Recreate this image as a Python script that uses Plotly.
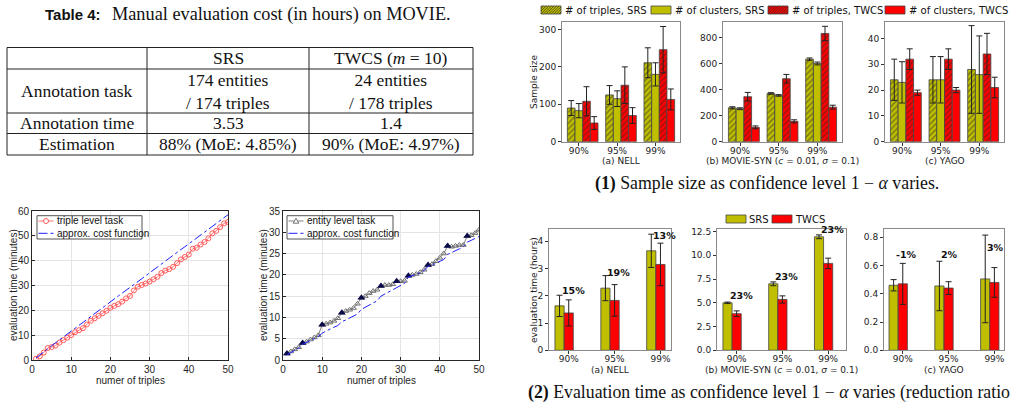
import plotly.graph_objects as go

W, H = 1015, 408


def fx(p):
    return p / W


def fy(p):
    return 1 - p / H


# ---------------- data ----------------
table_title_bold = "Table 4:"
table_title_rest = "Manual evaluation cost (in hours) on MOVIE."
table_columns = ["SRS", "TWCS (<i>m</i> = 10)"]
table_row_labels = ["Annotation task", "Annotation time", "Estimation"]
table_srs = ["174 entities<br>/ 174 triples", "3.53", "88% (MoE: 4.85%)"]
table_twcs = ["24 entities<br>/ 178 triples", "1.4", "90% (MoE: 4.97%)"]

n_triples = list(range(1, 51))
triple_task_time = [0.5, 1.5, 3.0, 4.8, 5.2, 5.8, 7.0, 8.0, 9.0, 10.0,
                    11.2, 12.0, 12.8, 14.3, 15.8, 16.8, 17.8, 18.8, 19.8, 21.0,
                    21.8, 22.5, 23.5, 24.8, 25.8, 28.0, 29.5, 30.2, 30.8, 31.6,
                    32.5, 33.5, 35.0, 36.0, 36.6, 37.5, 39.0, 40.5, 41.5, 42.5,
                    44.8, 45.2, 46.5, 47.5, 49.0, 51.0, 52.0, 53.5, 55.0, 55.6]
triple_cost_fn = [0.8, 2.1, 3.3, 4.5, 5.7, 6.9, 8.1, 9.3, 10.5, 11.7,
                  12.8, 14.0, 15.2, 16.4, 17.5, 18.7, 19.9, 21.0, 22.2, 23.4,
                  24.6, 25.7, 26.9, 28.1, 29.2, 30.4, 31.6, 32.8, 33.9, 35.1,
                  36.3, 37.4, 38.6, 39.8, 41.0, 42.1, 43.3, 44.5, 45.6, 46.8,
                  48.0, 49.2, 50.3, 51.5, 52.7, 53.8, 55.0, 56.2, 57.4, 58.5]
entity_task_time = [1.5, 2.0, 2.5, 3.0, 4.0, 4.3, 4.8, 5.3, 5.8, 8.3,
                    8.5, 8.8, 9.2, 9.8, 11.1, 11.5, 11.8, 12.2, 13.2, 14.6,
                    15.0, 15.7, 16.2, 16.5, 17.4, 17.6, 17.6, 17.8, 18.5, 18.5,
                    18.6, 19.8, 20.0, 20.2, 20.6, 21.2, 22.3, 22.5, 23.2, 24.0,
                    25.0, 26.8, 26.6, 26.8, 27.0, 27.0, 29.1, 29.3, 29.8, 30.6]
entity_cost_fn = [1.2, 1.7, 2.2, 2.8, 3.7, 4.1, 4.5, 5.0, 5.5, 6.3,
                  6.8, 7.3, 7.7, 8.1, 9.0, 9.4, 9.9, 10.4, 10.8, 11.9,
                  12.4, 12.9, 13.3, 13.9, 15.0, 15.5, 16.0, 16.6, 17.2, 17.5,
                  18.0, 19.5, 19.8, 20.1, 20.5, 21.0, 22.0, 22.3, 22.7, 23.1,
                  23.6, 24.8, 25.2, 25.7, 26.1, 26.6, 27.7, 28.1, 28.5, 29.0]
entity_start = [1, 5, 10, 15, 20, 25, 29, 32, 37, 42, 47]

confidence = ["90%", "95%", "99%"]
conf_pos = [0, 1, 2]

# sample size (top row): mean, error
nell_trip_srs = [90, 125, 211]
nell_trip_srs_err = [20, 25, 40]
nell_clus_srs = [83, 115, 180]
nell_clus_srs_err = [19, 21, 31]
nell_trip_twcs = [108, 151, 246]
nell_trip_twcs_err = [39, 49, 62]
nell_clus_twcs = [50, 70, 113]
nell_clus_twcs_err = [17, 21, 28]

movie_trip_srs = [260, 370, 633]
movie_trip_srs_err = [8, 6, 9]
movie_clus_srs = [253, 355, 600]
movie_clus_srs_err = [7, 6, 11]
movie_trip_twcs = [345, 483, 830]
movie_trip_twcs_err = [33, 33, 55]
movie_clus_twcs = [110, 156, 265]
movie_clus_twcs_err = [11, 12, 15]

yago_trip_srs = [24, 24, 28]
yago_trip_srs_err = [8, 9, 17]
yago_clus_srs = [23, 24, 26]
yago_clus_srs_err = [8, 9, 15]
yago_trip_twcs = [32, 32, 34]
yago_trip_twcs_err = [4, 4, 8]
yago_clus_twcs = [19, 20, 21]
yago_clus_twcs_err = [1, 1, 4]

# evaluation time (bottom row)
nell_time_srs = [1.63, 2.28, 3.65]
nell_time_srs_err = [0.39, 0.46, 0.61]
nell_time_twcs = [1.37, 1.83, 3.15]
nell_time_twcs_err = [0.48, 0.58, 0.78]
nell_reduction = ["15%", "19%", "13%"]

movie_time_srs = [5.0, 7.0, 11.95]
movie_time_srs_err = [0.08, 0.2, 0.2]
movie_time_twcs = [3.85, 5.35, 9.15]
movie_time_twcs_err = [0.3, 0.38, 0.55]
movie_reduction = ["23%", "23%", "23%"]

yago_time_srs = [0.46, 0.455, 0.505]
yago_time_srs_err = [0.04, 0.175, 0.31]
yago_time_twcs = [0.47, 0.44, 0.48]
yago_time_twcs_err = [0.145, 0.045, 0.105]
yago_reduction = ["-1%", "2%", "3%"]

top_names = ["# of triples, SRS", "# of clusters, SRS", "# of triples, TWCS", "# of clusters, TWCS"]
bottom_names = ["SRS", "TWCS"]
line_left_names = ["triple level task", "approx. cost function"]
line_right_names = ["entity level task", "approx. cost function"]

# ---------------- style ----------------
OLIVE = "#bfbf00"
RED = "#ff0000"
SERIF = "Liberation Serif"
SANS = "Liberation Sans"
MPL = "DejaVu Sans"
TRIPLE_RED = "#ff5a5a"
ENTITY_GRAY = "#707070"
COST_BLUE = "#2020ff"
TABLE_FS = 17.5
CAPTION_FS = 17.8

fig = go.Figure()

# ---------------- line plots ----------------
fig.add_trace(go.Scatter(
    x=n_triples, y=triple_task_time, mode="lines+markers", name=line_left_names[0],
    line=dict(color="#ff7070", width=1), marker=dict(symbol="circle-open", size=5, color=TRIPLE_RED),
    xaxis="x", yaxis="y", showlegend=False))
fig.add_trace(go.Scatter(
    x=n_triples, y=triple_cost_fn, mode="lines", name=line_left_names[1],
    line=dict(color=COST_BLUE, width=1, dash="dashdot"),
    xaxis="x", yaxis="y", showlegend=False))

fig.add_trace(go.Scatter(
    x=n_triples, y=entity_task_time, mode="lines+markers", name=line_right_names[0],
    line=dict(color="#808080", width=1), marker=dict(symbol="triangle-up-open", size=5, color=ENTITY_GRAY),
    xaxis="x2", yaxis="y2", showlegend=False))
fig.add_trace(go.Scatter(
    x=entity_start, y=[entity_task_time[n_triples.index(s)] for s in entity_start], mode="markers",
    marker=dict(symbol="triangle-up", size=7, color="#0b0b4a"), showlegend=False,
    xaxis="x2", yaxis="y2"))
fig.add_trace(go.Scatter(
    x=n_triples, y=entity_cost_fn, mode="lines", name=line_right_names[1],
    line=dict(color=COST_BLUE, width=1, dash="dashdot"),
    xaxis="x2", yaxis="y2", showlegend=False))

# ---------------- bar helpers ----------------
EDGE = dict(color="#444444", width=0.8)


def add_bar(x_axis, y_axis, vals, errs, color, offset, name, hatched):
    pattern = dict(shape="/", fgcolor="#2a2a2a", size=4, solidity=0.35, fillmode="overlay") if hatched else None
    fig.add_trace(go.Bar(
        x=conf_pos, y=vals, width=0.2, offset=offset, name=name,
        marker=dict(color=color, line=EDGE, pattern=pattern),
        error_y=dict(type="data", array=errs, color="#222222", thickness=1, width=3),
        showlegend=False, xaxis=x_axis, yaxis=y_axis))


top_sets = [
    ("x3", "y3", [nell_trip_srs, nell_clus_srs, nell_trip_twcs, nell_clus_twcs],
     [nell_trip_srs_err, nell_clus_srs_err, nell_trip_twcs_err, nell_clus_twcs_err]),
    ("x4", "y4", [movie_trip_srs, movie_clus_srs, movie_trip_twcs, movie_clus_twcs],
     [movie_trip_srs_err, movie_clus_srs_err, movie_trip_twcs_err, movie_clus_twcs_err]),
    ("x5", "y5", [yago_trip_srs, yago_clus_srs, yago_trip_twcs, yago_clus_twcs],
     [yago_trip_srs_err, yago_clus_srs_err, yago_trip_twcs_err, yago_clus_twcs_err]),
]
top_colors = [OLIVE, OLIVE, RED, RED]
top_hatch = [True, False, True, False]
top_offsets = [-0.4, -0.2, 0.0, 0.2]
for k, (xa, ya, series, errs) in enumerate(top_sets):
    for j in range(4):
        add_bar(xa, ya, series[j], errs[j], top_colors[j], top_offsets[j], top_names[j], top_hatch[j])

bottom_sets = [
    ("x6", "y6", nell_time_srs, nell_time_srs_err, nell_time_twcs, nell_time_twcs_err),
    ("x7", "y7", movie_time_srs, movie_time_srs_err, movie_time_twcs, movie_time_twcs_err),
    ("x8", "y8", yago_time_srs, yago_time_srs_err, yago_time_twcs, yago_time_twcs_err),
]
for k, (xa, ya, s, se, t, te) in enumerate(bottom_sets):
    add_bar(xa, ya, s, se, OLIVE, -0.2, bottom_names[0], False)
    add_bar(xa, ya, t, te, RED, 0.0, bottom_names[1], False)

# ---------------- axes ----------------
layout = dict(
    width=W, height=H, margin=dict(l=0, r=0, t=0, b=0, autoexpand=False),
    paper_bgcolor="white", plot_bgcolor="white", barmode="overlay", showlegend=False,
    font=dict(family=MPL, size=9, color="#222222"),
)

line_ax = dict(showline=True, mirror=True, linecolor="#262626", linewidth=0.8, ticks="inside",
               ticklen=3, tickcolor="#262626", showgrid=True, gridcolor="#e4e4e4", zeroline=False,
               tickfont=dict(family=SANS, size=10, color="#262626"))
layout["xaxis"] = dict(line_ax, domain=[fx(32), fx(228)], range=[0, 50], dtick=10, anchor="y")
layout["yaxis"] = dict(line_ax, domain=[fy(360), fy(211)], range=[0, 60], dtick=10, anchor="x")
layout["xaxis2"] = dict(line_ax, domain=[fx(283), fx(479)], range=[0, 50], dtick=10, anchor="y2")
layout["yaxis2"] = dict(line_ax, domain=[fy(360), fy(211)], range=[0, 35], dtick=5, anchor="x2")

bar_ax = dict(showline=True, mirror=True, linecolor="#8a8a8a", linewidth=1, ticks="outside",
              ticklen=3, tickcolor="#333333", showgrid=False, zeroline=False,
              tickfont=dict(family=MPL, size=9, color="#222222"))

top_dom = [(562, 680), (723, 842), (885, 1004)]
top_ranges = [[0, 320], [0, 918], [0, 46.4]]
top_ticks = [[0, 100, 200, 300], [0, 200, 400, 600, 800], [0, 10, 20, 30, 40]]
for k in range(3):
    n = k + 3
    layout[f"xaxis{n}"] = dict(bar_ax, domain=[fx(top_dom[k][0]), fx(top_dom[k][1])], range=[-0.54, 2.54],
                               tickvals=[p - 0.1 for p in conf_pos], ticktext=confidence, anchor=f"y{n}",
                               ticklabelstandoff=-3)
    layout[f"yaxis{n}"] = dict(bar_ax, domain=[fy(141.7), fy(22)], range=top_ranges[k],
                               tickvals=top_ticks[k], anchor=f"x{n}")

bot_dom = [(549, 671), (717, 846), (884, 1004)]
bot_xr = [[-0.33, 2.33], [-0.33, 2.49], [-0.31, 2.31]]
bot_ranges = [[0, 4.45], [0, 12.77], [0, 0.858]]
bot_ticks = [[0, 1, 2, 3, 4], [0, 2.5, 5, 7.5, 10, 12.5], [0, 0.2, 0.4, 0.6, 0.8]]
bot_fmt = ["d", ".1f", ".1f"]
for k in range(3):
    n = k + 6
    layout[f"xaxis{n}"] = dict(bar_ax, domain=[fx(bot_dom[k][0]), fx(bot_dom[k][1])], range=bot_xr[k],
                               tickvals=[p + 0.1 for p in conf_pos], ticktext=confidence, anchor=f"y{n}",
                               ticklabelstandoff=-3)
    layout[f"yaxis{n}"] = dict(bar_ax, domain=[fy(350.3), fy(229)], range=bot_ranges[k],
                               tickvals=bot_ticks[k], tickformat=bot_fmt[k], anchor=f"x{n}")

# ---------------- annotations & shapes ----------------
ann = []
shapes = []


def text(x, y, s, size=9, family=MPL, xanchor="center", yanchor="middle", angle=0, color="#222222"):
    ann.append(dict(x=fx(x), y=fy(y), xref="paper", yref="paper", text=s, showarrow=False,
                    xanchor=xanchor, yanchor=yanchor, textangle=angle,
                    font=dict(family=family, size=size, color=color)))


def pline(x0, y0, x1, y1, color, width=1, dash="solid"):
    shapes.append(dict(type="line", xref="paper", yref="paper", x0=fx(x0), x1=fx(x1),
                       y0=fy(y0), y1=fy(y1), line=dict(color=color, width=width, dash=dash)))


def prect(x0, y0, x1, y1, fill, line_color, lw=0.8):
    shapes.append(dict(type="rect", xref="paper", yref="paper", x0=fx(x0), x1=fx(x1),
                       y0=fy(y1), y1=fy(y0), fillcolor=fill, line=dict(color=line_color, width=lw)))


def hatch_swatch(x0, y0, w, h, fill, step=2.6):
    prect(x0, y0, x0 + w, y0 + h, fill, "#444444")
    segs = []
    c = -h
    while c < w:
        u0, u1 = max(0.0, c), min(float(w), c + h)
        if u1 > u0:
            segs.append(f"M{fx(x0 + u0):.5f},{fy(y0 + h - (u0 - c)):.5f}L{fx(x0 + u1):.5f},{fy(y0 + h - (u1 - c)):.5f}")
        c += step
    shapes.append(dict(type="path", xref="paper", yref="paper", path="".join(segs),
                       line=dict(color="#2a2a2a", width=0.7)))


# table
text(103, 15, "<b>" + table_title_bold + "</b>", size=15, family=SANS, xanchor="right", color="#111")
text(110, 15, table_title_rest, size=18.3, family=SERIF, xanchor="left", color="#111")
col_x = [7, 147, 309, 473]
row_y = [47.5, 69, 113, 133.5, 155]
for cx in col_x:
    pline(cx, row_y[0], cx, row_y[-1], "#222")
for ry in row_y:
    pline(col_x[0], ry, col_x[-1], ry, "#222")
col_c = [(col_x[i] + col_x[i + 1]) / 2 for i in range(3)]
row_c = [(row_y[i] + row_y[i + 1]) / 2 for i in range(4)]
for i, c in enumerate(table_columns):
    text(col_c[i + 1], row_c[0], c, size=TABLE_FS, family=SERIF, color="#111")
for r in range(3):
    text(col_c[0], row_c[r + 1], table_row_labels[r], size=TABLE_FS, family=SERIF, color="#111")
    text(col_c[1], row_c[r + 1], table_srs[r], size=TABLE_FS, family=SERIF, color="#111")
    text(col_c[2], row_c[r + 1], table_twcs[r], size=TABLE_FS, family=SERIF, color="#111")

# line plot labels
for cx, cy_x in [((32 + 228) / 2, 13), ((283 + 479) / 2, 263)]:
    text(cx, 380, "numer of triples", size=10, family=SANS, color="#262626")
    text(cy_x, 285, "evaluation time (minutes)", size=10, family=SANS, angle=-90, color="#262626")

# line plot legends (drawn manually, MATLAB style)
for (bx0, bx1, names, kind) in [(37, 142, line_left_names, "circle"), (287, 393, line_right_names, "tri")]:
    prect(bx0, 215.7, bx1, 239, "white", "#262626", 0.8)
    r1, r2 = 221, 233.3
    if kind == "circle":
        pline(bx0 + 1.5, r1, bx0 + 16.5, r1, "#ff7070")
        shapes.append(dict(type="circle", xref="paper", yref="paper", xsizemode="pixel", ysizemode="pixel",
                           xanchor=fx(bx0 + 9), yanchor=fy(r1), x0=-2.5, x1=2.5, y0=-2.5, y1=2.5,
                           line=dict(color=TRIPLE_RED, width=1), fillcolor="white"))
    else:
        pline(bx0 + 1.5, r1, bx0 + 16.5, r1, "#808080")
        tx, ty = bx0 + 9, r1
        shapes.append(dict(type="path", xref="paper", yref="paper",
                           path=f"M{fx(tx - 2.8):.5f},{fy(ty + 2.2):.5f}L{fx(tx + 2.8):.5f},{fy(ty + 2.2):.5f}"
                                f"L{fx(tx):.5f},{fy(ty - 2.8):.5f}Z",
                           line=dict(color=ENTITY_GRAY, width=1), fillcolor="white"))
    pline(bx0 + 1.5, r2, bx0 + 16.5, r2, COST_BLUE, 1, "dashdot")
    text(bx0 + 18, r1, names[0], size=10, family=SANS, xanchor="left", color="#111")
    text(bx0 + 18, r2, names[1], size=10, family=SANS, xanchor="left", color="#111")

# bar chart legends (drawn manually)
top_leg_x = [541, 651, 768, 885]
for j in range(4):
    if top_hatch[j]:
        hatch_swatch(top_leg_x[j], 6, 20, 8, top_colors[j])
    else:
        prect(top_leg_x[j], 6, top_leg_x[j] + 20, 14, top_colors[j], "#444444")
    text(top_leg_x[j] + 21.5, 10, top_names[j], size=10, xanchor="left", color="#111")
bot_leg_x = [726, 772]
bot_colors = [OLIVE, RED]
for j in range(2):
    prect(bot_leg_x[j], 215, bot_leg_x[j] + 20, 223, bot_colors[j], "#444444")
    text(bot_leg_x[j] + 21, 219, bottom_names[j], size=10, xanchor="left", color="#111")

# bar labels
text(534, 82, "Sample size", angle=-90)
text(534, 290, "evaluation time (hours)", angle=-90)
captions_top = ["(a) NELL", "(b) MOVIE-SYN (<i>c</i> = 0.01, <i>σ</i> = 0.1)", "(c) YAGO"]
for k in range(3):
    text((top_dom[k][0] + top_dom[k][1]) / 2, 161, captions_top[k])
    text((bot_dom[k][0] + bot_dom[k][1]) / 2, 370, captions_top[k])

text(767, 184, "<b>(1)</b> Sample size as confidence level 1 − <i>α</i> varies.", size=CAPTION_FS,
     family=SERIF, color="#111")
text(526, 392, "<b>(2)</b> Evaluation time as confidence level 1 − <i>α</i> varies (reduction ratio",
     size=CAPTION_FS, family=SERIF, xanchor="left", color="#111")

# reduction labels on bars
red_sets = [(nell_time_srs, nell_reduction, 0.58), (movie_time_srs, movie_reduction, 0.75),
            (yago_time_srs, yago_reduction, 0.22)]
for k, (srs, labels, off) in enumerate(red_sets):
    n = k + 6
    for i, lab in enumerate(labels):
        ann.append(dict(x=conf_pos[i] - 0.1, y=srs[i] + off, xref=f"x{n}", yref=f"y{n}", text=f"<b>{lab}</b>",
                        showarrow=False, xanchor="left", yanchor="middle",
                        font=dict(family=MPL, size=9.5, color="#111")))

layout["annotations"] = ann
layout["shapes"] = shapes
fig.update_layout(**layout)
fig.write_html("out.html")
